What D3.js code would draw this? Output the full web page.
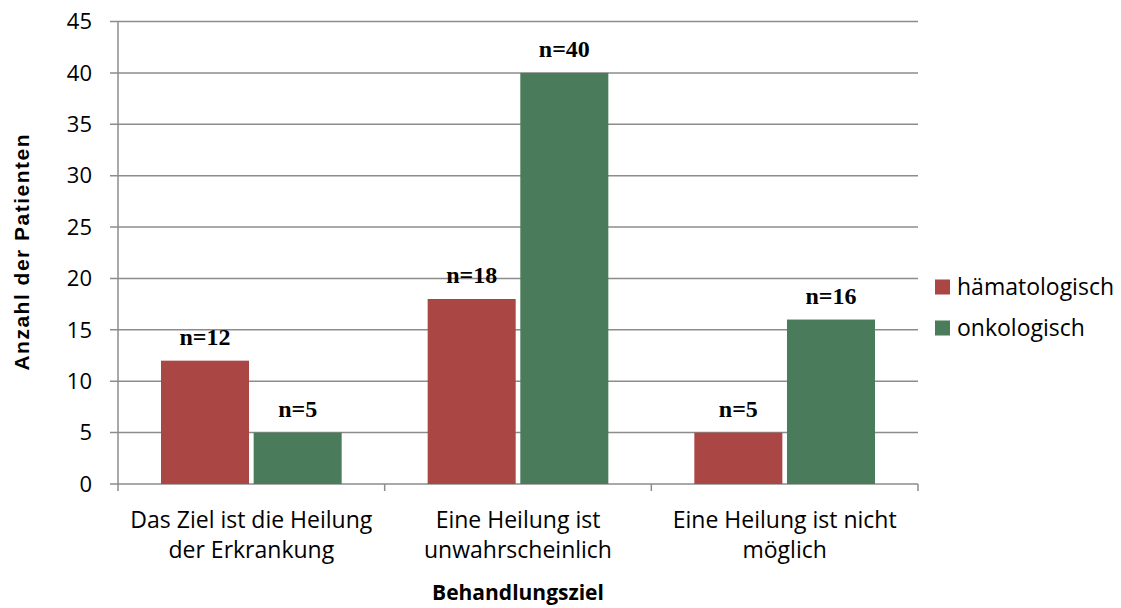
<!DOCTYPE html>
<html>
<head>
<meta charset="utf-8">
<script src="https://cdn.jsdelivr.net/npm/d3@7"></script>
<style>
  body { margin: 0; background: #fff; }
  svg { display: block; }
</style>
</head>
<body>
<svg id="chart" width="1121" height="608"></svg>
<script>
// Treatment goal by patient group
const categories = [
  ["Das Ziel ist die Heilung", "der Erkrankung"],
  ["Eine Heilung ist", "unwahrscheinlich"],
  ["Eine Heilung ist nicht", "möglich"]
];
const seriesNames = ["hämatologisch", "onkologisch"];
const haematologisch = [12, 18, 5];
const onkologisch = [5, 40, 16];
const yTicks = [0, 5, 10, 15, 20, 25, 30, 35, 40, 45];
const colors = ["#AA4744", "#4A7B5A"];

(function () {
const svg = d3.select("#chart");
const plotLeft = 118, plotRight = 918, plotTop = 21.5, plotBottom = 484;
const sansFont = "'Open Sans', Lato, sans-serif";

const x0 = d3.scaleBand().domain(d3.range(categories.length)).range([plotLeft, plotRight]).paddingInner(0).paddingOuter(0);
const x1 = d3.scaleBand().domain(d3.range(seriesNames.length)).range([43, x0.bandwidth() - 43]).paddingInner(0.05);
const y = d3.scaleLinear().domain([0, 45]).range([plotBottom, plotTop]);

// Gridlines with outward ticks
svg.append("g").selectAll("line").data(yTicks).join("line")
  .attr("x1", plotLeft - 8).attr("x2", plotRight)
  .attr("y1", d => y(d)).attr("y2", d => y(d))
  .attr("stroke", "#8c8c8c").attr("stroke-width", 1.5);

// Y axis line
svg.append("line").attr("x1", plotLeft).attr("x2", plotLeft).attr("y1", plotTop).attr("y2", plotBottom)
  .attr("stroke", "#8c8c8c").attr("stroke-width", 1.5);

// Category boundary ticks on the x axis
const bounds = d3.range(categories.length + 1).map(i => i === categories.length ? plotRight : x0(i));
svg.append("g").selectAll("line").data(bounds).join("line")
  .attr("x1", d => d).attr("x2", d => d).attr("y1", plotBottom).attr("y2", plotBottom + 7)
  .attr("stroke", "#8c8c8c").attr("stroke-width", 1.5);

// Y tick labels
svg.append("g").selectAll("text").data(yTicks).join("text")
  .attr("x", plotLeft - 26).attr("y", d => y(d))
  .attr("dy", "0.35em").attr("text-anchor", "end")
  .attr("font-family", sansFont).attr("font-size", 22).attr("fill", "#000")
  .text(d => d);

// Bars and value labels
const data = categories.map((c, i) => [haematologisch[i], onkologisch[i]]);
const groups = svg.append("g").selectAll("g").data(data).join("g")
  .attr("transform", (d, i) => `translate(${x0(i)},0)`);

groups.selectAll("rect").data(d => d).join("rect")
  .attr("x", (d, j) => x1(j)).attr("width", x1.bandwidth())
  .attr("y", d => y(d)).attr("height", d => plotBottom - y(d))
  .attr("fill", (d, j) => colors[j]);

groups.selectAll("text").data(d => d).join("text")
  .attr("x", (d, j) => x1(j) + x1.bandwidth() / 2)
  .attr("y", d => y(d) - 16)
  .attr("text-anchor", "middle")
  .attr("font-family", "'Liberation Serif', 'Times New Roman', serif")
  .attr("font-weight", "bold").attr("font-size", 24).attr("fill", "#000")
  .text(d => "n=" + d);

// Category labels (two lines)
svg.append("g").selectAll("text").data(categories).join("text")
  .attr("text-anchor", "middle")
  .attr("font-family", sansFont).attr("font-size", 23).attr("fill", "#000")
  .attr("transform", (d, i) => `translate(${x0(i) + x0.bandwidth() / 2},528)`)
  .selectAll("tspan").data(d => d).join("tspan")
  .attr("x", 0).attr("dy", (d, k) => k === 0 ? 0 : 30)
  .text(d => d);

// Axis titles
svg.append("text")
  .attr("x", (plotLeft + plotRight) / 2).attr("y", 600)
  .attr("text-anchor", "middle")
  .attr("font-family", sansFont).attr("font-weight", "bold").attr("font-size", 21)
  .text("Behandlungsziel");

svg.append("text")
  .attr("transform", `translate(29,${(plotTop + plotBottom) / 2 - 1}) rotate(-90)`)
  .attr("text-anchor", "middle")
  .attr("font-family", "'Liberation Sans', Arial, sans-serif").attr("font-weight", "bold")
  .attr("font-size", 21).attr("letter-spacing", 1.5)
  .text("Anzahl der Patienten");

// Legend
const legend = svg.append("g").selectAll("g").data(seriesNames).join("g")
  .attr("transform", (d, i) => `translate(935,${287 + i * 41})`);
legend.append("rect").attr("x", 0).attr("y", -7.5).attr("width", 15).attr("height", 15)
  .attr("fill", (d, i) => colors[i]);
legend.append("text").attr("x", 22).attr("y", 0).attr("dy", "0.35em")
  .attr("font-family", sansFont).attr("font-size", 23).attr("fill", "#000")
  .text(d => d);
})();
</script>
</body>
</html>
